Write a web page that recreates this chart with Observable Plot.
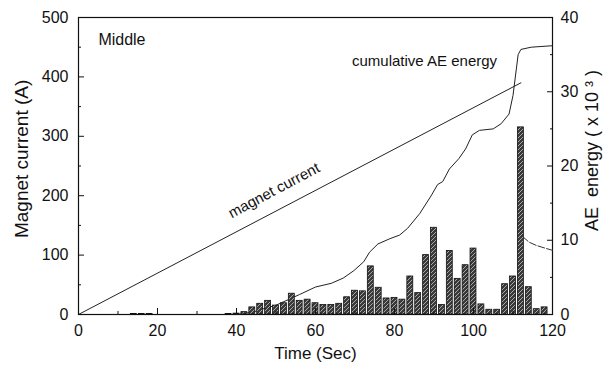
<!DOCTYPE html>
<html><head><meta charset="utf-8">
<script src="https://cdn.jsdelivr.net/npm/d3@7"></script>
<script src="https://cdn.jsdelivr.net/npm/@observablehq/plot@0.6"></script>
<style>
body{margin:0;background:#fff;font-family:"Liberation Sans",Arial,sans-serif}
#chart svg{overflow:visible}
</style>
</head><body>
<svg width="0" height="0" style="position:absolute"><defs>
<pattern id="hatch" width="4" height="4" patternUnits="userSpaceOnUse">
<rect width="4" height="4" fill="#3a3a3a"/>
<path d="M0,4 L4,0" stroke="#b4b4b4" stroke-width="0.9"/>
</pattern></defs></svg>
<div id="chart"></div>
<script>
// AE event bars (left scale units)
const barTime  = [14, 16, 18, 38, 40, 42, 44, 46, 48, 50, 52, 54, 56, 58, 60, 62, 64, 66, 68, 70, 72, 74, 76, 78, 80, 82, 84, 86, 88, 90, 92, 94, 96, 98, 100, 102, 104, 106, 108, 110, 112, 114, 116, 118];
const barValue = [1, 1, 1, 1, 1.5, 4, 12, 18, 23, 15, 19, 35, 23, 25, 19, 16, 16, 18, 29, 40, 39, 81, 45, 27, 28, 25, 64, 36, 100, 146, 16, 107, 60, 83, 111, 17, 8, 8, 51, 64, 315, 46, 9, 12];
// magnet current (A)
const magTime = [0, 112];
const magCurrent = [0, 390];
const decayTime = [112.5, 114, 116, 118, 120];
const decayCurrent = [131, 122, 116, 112, 108];
// cumulative AE energy (right scale, x10^3)
const cumTime   = [40, 44, 47, 50, 56, 60, 64, 67, 69.7, 72.2, 73.7, 75.8, 78.8, 81.3, 83.3, 86.4, 89.4, 90.9, 92.2, 93.9, 96.3, 98, 99.7, 101.5, 105, 107, 109, 110, 111.3, 112, 114.6, 120];
const cumEnergy = [0, 0.3, 0.8, 1.25, 2.7, 3.7, 4.2, 4.9, 5.9, 7.1, 8.4, 9.5, 10.2, 10.7, 11.6, 13.6, 16.1, 17.5, 17.9, 19.6, 21, 22.3, 24.2, 24.8, 25, 25.7, 27, 29.5, 35, 35.7, 36, 36.2];
const xTicks = [0, 20, 40, 60, 80, 100, 120];
const leftTicks = [0, 100, 200, 300, 400, 500];
const rightTicks = [0, 10, 20, 30, 40];
const K = 500 / 40;

const bars = barTime.map((t, i) => ({t, v: barValue[i]}));
const mag = magTime.map((t, i) => ({t, v: magCurrent[i]}));
const decay = decayTime.map((t, i) => ({t, v: decayCurrent[i]}));
const cum = cumTime.map((t, i) => ({t, v: cumEnergy[i] * K}));
const mid = (a) => a.slice(0, -1).map((v, i) => (v + a[i + 1]) / 2);

const font = "'Liberation Sans', Arial, sans-serif";
const chart = Plot.plot({
  width: 614, height: 371,
  marginLeft: 78, marginRight: 62, marginTop: 17, marginBottom: 57,
  style: {fontFamily: font, fontSize: "16px", color: "#111", background: "#fff"},
  x: {domain: [0, 120]},
  y: {domain: [0, 500]},
  marks: [
    Plot.frame({stroke: "#111", strokeWidth: 1.2}),
    Plot.line(cum, {x: "t", y: "v", stroke: "#222", strokeWidth: 1}),
    Plot.rectY(bars, {x1: d => d.t - 0.75, x2: d => d.t + 0.75, y1: 0, y2: "v", fill: "url(#hatch)", stroke: "#111", strokeWidth: 0.8}),
    Plot.line(mag, {x: "t", y: "v", stroke: "#222", strokeWidth: 1}),
    Plot.line(decay, {x: "t", y: "v", stroke: "#333", strokeWidth: 1, strokeDasharray: "7,2"}),
    // x axis
    Plot.axisX({ticks: xTicks, tickSize: 0, tickPadding: 10, label: null}),
    Plot.axisX({ticks: xTicks, tickSize: -6, tickFormat: () => "", label: null}),
    Plot.axisX({ticks: mid(xTicks), tickSize: -3, tickFormat: () => "", label: null}),
    // left axis
    Plot.axisY({ticks: leftTicks, tickSize: 0, tickPadding: 10, label: null}),
    Plot.axisY({ticks: leftTicks, tickSize: -6, tickFormat: () => "", label: null}),
    Plot.axisY({ticks: mid(leftTicks), tickSize: -3, tickFormat: () => "", label: null}),
    // right axis
    Plot.axisY({anchor: "right", ticks: rightTicks.map(v => v * K), tickFormat: d => d / K, tickSize: 0, tickPadding: 8, label: null}),
    Plot.axisY({anchor: "right", ticks: rightTicks.map(v => v * K), tickSize: -6, tickFormat: () => "", label: null}),
    Plot.axisY({anchor: "right", ticks: mid(rightTicks).map(v => v * K), tickSize: -3, tickFormat: () => "", label: null}),
    // axis titles
    Plot.text(["Time (Sec)"], {x: 60, y: 0, dy: 39, lineAnchor: "middle", text: d => d, fontSize: 17, fill: "#111"}),
    Plot.text(["Magnet current (A)"], {x: -14.4, y: 262, rotate: -90, text: d => d, fontSize: 19, fill: "#111"}),
    Plot.text(["AE  energy ( x 10 ³ )"], {x: 130, y: 276, rotate: -90, text: d => d, fontSize: 18, fill: "#111"}),
    // annotations
    Plot.text(["Middle"], {x: 11, y: 462, text: d => d, fontSize: 16, fill: "#111"}),
    Plot.text(["cumulative AE energy"], {x: 87.6, y: 426, text: d => d, fontSize: 15, fill: "#111"}),
    Plot.text(["magnet current"], {x: 49.5, y: 192, text: d => d, fontSize: 15, rotate: -28, dy: -10, fill: "#111"})
  ]
});
document.getElementById("chart").append(chart);
</script>
</body></html>
